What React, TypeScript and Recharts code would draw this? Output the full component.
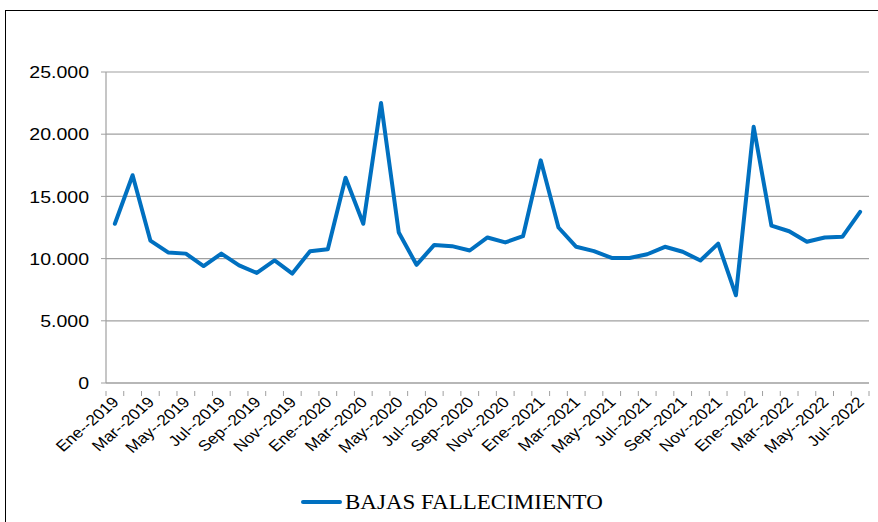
import { CartesianGrid, Line, LineChart, XAxis, YAxis } from "recharts";

const months = [
  "Ene--2019", "Feb--2019", "Mar--2019", "Abr--2019", "May--2019", "Jun--2019",
  "Jul--2019", "Ago--2019", "Sep--2019", "Oct--2019", "Nov--2019", "Dic--2019",
  "Ene--2020", "Feb--2020", "Mar--2020", "Abr--2020", "May--2020", "Jun--2020",
  "Jul--2020", "Ago--2020", "Sep--2020", "Oct--2020", "Nov--2020", "Dic--2020",
  "Ene--2021", "Feb--2021", "Mar--2021", "Abr--2021", "May--2021", "Jun--2021",
  "Jul--2021", "Ago--2021", "Sep--2021", "Oct--2021", "Nov--2021", "Dic--2021",
  "Ene--2022", "Feb--2022", "Mar--2022", "Abr--2022", "May--2022", "Jun--2022",
  "Jul--2022",
];

const bajas = [
  12800, 16700, 11450, 10500, 10400, 9400, 10400, 9450, 8850, 9850, 8800, 10600,
  10750, 16500, 12800, 22500, 12100, 9500, 11100, 11000, 10650, 11700, 11300, 11800,
  17900, 12500, 10950, 10600, 10050, 10050, 10350, 10950, 10550, 9850, 11200, 7050,
  20600, 12650, 12200, 11350, 11700, 11750, 13750,
];

const yTicks = [0, 5000, 10000, 15000, 20000, 25000];

const data = months.map((m, i) => ({ month: m, bajas: bajas[i] }));

const W = 878;
const H = 522;
const PLOT_LEFT = 106;
const PLOT_RIGHT = 869;
const STEP = (PLOT_RIGHT - PLOT_LEFT) / months.length;
const AXIS = "#a0a0a0";
const STRETCH = 1.15;
const SERIF = "'Liberation Serif', Tinos, 'Times New Roman', Times, 'DejaVu Serif', 'Noto Serif', serif";

const fmt = (v: number) => v.toLocaleString("de-DE");

function XTick(props: any) {
  const { x, y, index, payload } = props;
  const last = index === months.length - 1;
  return (
    <g>
      <line x1={x - STEP / 2} x2={x - STEP / 2} y1={y} y2={y + 5} stroke={AXIS} />
      {last && <line x1={x + STEP / 2} x2={x + STEP / 2} y1={y} y2={y + 5} stroke={AXIS} />}
      {index % 2 === 0 && (
        <text
          transform={`translate(${x + 5},${y + 12}) scale(${STRETCH},1) rotate(-45)`}
          textAnchor="end"
          fontSize={15}
          fontFamily="'Liberation Sans', Arial, sans-serif"
          fill="#000"
        >
          {payload.value}
        </text>
      )}
    </g>
  );
}

function YTick(props: any) {
  const { y, payload } = props;
  return (
    <g>
      <line x1={PLOT_LEFT - 5} x2={PLOT_LEFT} y1={y} y2={y} stroke={AXIS} />
      <text
        transform={`translate(89,${y}) scale(${STRETCH},1)`}
        textAnchor="end"
        dy="0.36em"
        fontSize={17}
        fontFamily="'Liberation Sans', Arial, sans-serif"
        fill="#000"
      >
        {fmt(payload.value)}
      </text>
    </g>
  );
}

export default function App() {
  return (
    <div
      style={{
        position: "absolute",
        left: 0,
        top: 0,
        width: W,
        height: H,
        overflow: "hidden",
        background: "#fff",
      }}
    >
      <div
        style={{
          position: "absolute",
          left: 5,
          top: 10,
          width: W + 20,
          height: H + 20,
          border: "1.5px solid #000",
        }}
      />
      <div style={{ position: "absolute", left: 0, top: 0 }}>
        <LineChart
          width={W}
          height={H}
          data={data}
          margin={{ top: 72, right: W - PLOT_RIGHT, left: 0, bottom: 0 }}
        >
          <CartesianGrid vertical={false} stroke={AXIS} strokeWidth={1.2} />
          <XAxis
            dataKey="month"
            interval={0}
            height={139}
            padding={{ left: STEP / 2, right: STEP / 2 }}
            axisLine={{ stroke: AXIS, strokeWidth: 1.2 }}
            tickLine={false}
            tick={<XTick />}
          />
          <YAxis
            width={PLOT_LEFT}
            domain={[0, 25000]}
            ticks={yTicks}
            interval={0}
            axisLine={{ stroke: AXIS, strokeWidth: 1.2 }}
            tickLine={false}
            tick={<YTick />}
          />
          <Line
            dataKey="bajas"
            stroke="#0070C0"
            strokeWidth={4}
            strokeLinejoin="round"
            strokeLinecap="round"
            dot={false}
            isAnimationActive={false}
          />
        </LineChart>
      </div>
      <svg
        width={360}
        height={30}
        style={{ position: "absolute", left: 290, top: 488 }}
      >
        <line x1={13} x2={50} y1={14} y2={14} stroke="#0070C0" strokeWidth={4} strokeLinecap="round" />
        <text
          transform={`translate(55,21) scale(${STRETCH},1)`}
          fontFamily={SERIF}
          fontSize={20}
          fill="#000"
        >
          BAJAS FALLECIMIENTO
        </text>
      </svg>
    </div>
  );
}
